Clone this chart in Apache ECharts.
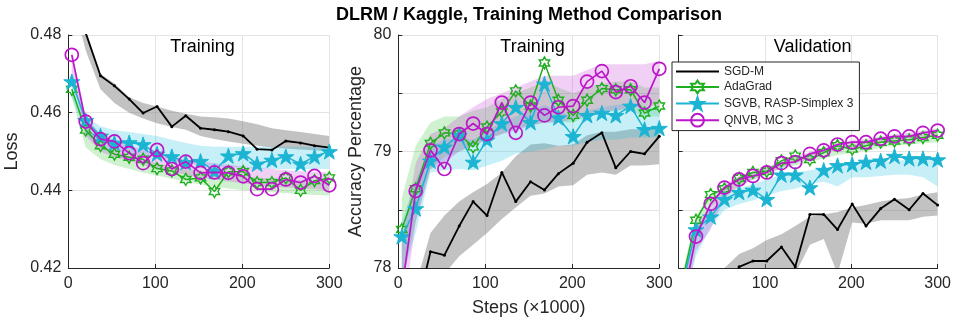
<!DOCTYPE html>
<html>
<head>
<meta charset="utf-8">
<script src="https://cdn.jsdelivr.net/npm/echarts@6/dist/echarts.min.js"></script>
<style>html,body{margin:0;padding:0;background:#fff;}#c{width:954px;height:322px;}</style>
</head>
<body>
<div id="c"></div>
<script>
// ---------- data ----------
const steps = [4,20,37,53,70,86,102,119,135,152,168,184,201,217,234,250,267,283,300];
const seriesNames = ['SGD-M','AdaGrad','SGVB, RASP-Simplex 3','QNVB, MC 3'];

// Training loss (left panel)
const sgdLoss  = [0.495,0.4805,0.4695,0.4669,0.4635,0.4599,0.4616,0.4564,0.4592,0.4560,0.4556,0.4551,0.4540,0.4506,0.4504,0.4527,0.4522,0.4515,0.4510];
const adaLoss  = [0.4660,0.4555,0.4515,0.4493,0.4485,0.4480,0.4456,0.4450,0.4428,0.4432,0.4397,0.4448,0.4448,0.4420,0.4420,0.4432,0.4400,0.4425,0.4432];
const sgvbLoss = [0.4680,0.4580,0.4540,0.4522,0.4523,0.4518,0.4494,0.4487,0.4472,0.4475,0.4449,0.4489,0.4495,0.4468,0.4478,0.4487,0.4468,0.4487,0.4500];
const qnvbLoss = [0.4749,0.4577,0.4532,0.4526,0.4496,0.4470,0.4504,0.4455,0.4474,0.4445,0.4446,0.4445,0.4436,0.4403,0.4403,0.4428,0.4420,0.4437,0.4413];
const sgdLossLo  = [0.490,0.4760,0.4660,0.4625,0.4600,0.4585,0.4573,0.4563,0.4556,0.4540,0.4532,0.4526,0.4520,0.4515,0.4510,0.4508,0.4505,0.4503,0.4500];
const sgdLossHi  = [0.500,0.4815,0.4700,0.4675,0.4640,0.4625,0.4616,0.4605,0.4597,0.4590,0.4588,0.4585,0.4578,0.4570,0.4560,0.4555,0.4550,0.4545,0.4540];
const adaLossLo  = [0.4640,0.4510,0.4480,0.4465,0.4455,0.4445,0.4438,0.4430,0.4423,0.4415,0.4410,0.4405,0.4400,0.4398,0.4395,0.4393,0.4390,0.4388,0.4387];
const adaLossHi  = [0.4670,0.4560,0.4520,0.4500,0.4490,0.4480,0.4470,0.4462,0.4455,0.4450,0.4445,0.4440,0.4436,0.4433,0.4430,0.4428,0.4426,0.4425,0.4424];
const sgvbLossLo = [0.4640,0.4545,0.4510,0.4500,0.4495,0.4490,0.4485,0.4478,0.4470,0.4465,0.4460,0.4458,0.4458,0.4456,0.4455,0.4455,0.4455,0.4455,0.4455];
const sgvbLossHi = [0.4700,0.4590,0.4565,0.4555,0.4550,0.4545,0.4540,0.4530,0.4522,0.4515,0.4512,0.4512,0.4512,0.4512,0.4512,0.4512,0.4512,0.4512,0.4512];
const qnvbLossLo = [0.4700,0.4540,0.4500,0.4485,0.4475,0.4465,0.4455,0.4447,0.4440,0.4433,0.4428,0.4423,0.4418,0.4414,0.4410,0.4407,0.4405,0.4403,0.4400];
const qnvbLossHi = [0.4760,0.4590,0.4545,0.4530,0.4515,0.4505,0.4495,0.4487,0.4480,0.4475,0.4470,0.4466,0.4462,0.4458,0.4455,0.4452,0.4450,0.4448,0.4446];

// Training accuracy (middle panel)
const sgdTrainAcc  = [77.0,77.61,78.14,78.11,78.36,78.57,78.45,78.82,78.57,78.74,78.67,78.81,78.90,79.08,79.16,78.86,79.00,78.98,79.13];
const adaTrainAcc  = [78.33,78.68,79.07,79.16,79.15,79.04,79.21,79.34,79.52,79.39,79.76,79.44,79.31,79.44,79.54,79.53,79.53,79.33,79.39];
const sgvbTrainAcc = [78.27,78.51,78.92,79.04,79.14,78.91,79.10,79.24,79.38,79.25,79.58,79.29,79.13,79.31,79.33,79.31,79.39,79.19,79.20];
const qnvbTrainAcc = [77.81,78.66,79.01,78.85,79.15,79.24,79.15,79.42,79.16,79.42,79.31,79.38,79.39,79.60,79.69,79.51,79.56,79.42,79.71];
const sgdTrainLo  = [76.8,77.3,77.75,77.95,78.1,78.2,78.3,78.42,78.52,78.62,78.64,78.70,78.71,78.80,78.82,78.80,78.88,78.88,78.89];
const sgdTrainHi  = [77.4,77.85,78.3,78.45,78.57,78.65,78.72,78.82,78.96,79.06,79.07,79.05,79.06,79.14,79.17,79.17,79.19,79.19,79.20];
const adaTrainLo  = [77.9,78.4,78.85,78.95,79.0,79.05,79.1,79.15,79.2,79.22,79.25,79.25,79.25,79.3,79.33,79.35,79.35,79.3,79.3];
const adaTrainHi  = [78.6,79.05,79.25,79.3,79.3,79.35,79.38,79.45,79.5,79.55,79.6,79.55,79.5,79.55,79.58,79.6,79.6,79.55,79.55];
const sgvbTrainLo = [77.9,78.3,78.82,78.84,78.85,78.84,78.88,78.92,78.98,79.0,79.02,79.05,79.05,79.08,79.1,79.1,79.12,79.12,79.12];
const sgvbTrainHi = [78.4,78.75,79.05,79.1,79.12,79.1,79.18,79.25,79.3,79.35,79.4,79.35,79.3,79.35,79.38,79.4,79.42,79.38,79.38];
const qnvbTrainLo = [77.5,78.4,78.85,78.9,79.0,79.05,79.1,79.15,79.18,79.22,79.25,79.25,79.28,79.3,79.35,79.35,79.38,79.38,79.4];
const qnvbTrainHi = [78.2,78.9,79.15,79.2,79.3,79.38,79.45,79.5,79.55,79.6,79.65,79.65,79.65,79.7,79.75,79.75,79.75,79.75,79.78];

// Validation accuracy (right panel)
const sgdValAcc  = [76.5,77.3,77.5,77.7,78.01,78.06,78.06,78.18,78.01,78.46,78.46,78.33,78.55,78.36,78.51,78.59,78.50,78.64,78.54];
const adaValAcc  = [77.88,78.41,78.63,78.68,78.77,78.82,78.83,78.92,78.96,78.93,78.99,79.05,79.02,79.05,79.08,79.09,79.10,79.12,79.14];
const sgvbValAcc = [77.85,78.33,78.44,78.59,78.65,78.67,78.59,78.80,78.80,78.69,78.84,78.88,78.89,78.91,78.92,78.96,78.94,78.94,78.93];
const qnvbValAcc = [77.68,78.27,78.55,78.69,78.76,78.79,78.82,78.90,78.91,78.98,79.01,79.06,79.08,79.08,79.11,79.13,79.13,79.16,79.18];
const sgdValLo  = [76.0,76.6,77.0,77.5,77.8,77.85,77.95,78.0,77.95,78.2,78.25,77.95,78.39,78.38,78.41,78.41,78.41,78.44,78.45];
const sgdValHi  = [76.5,77.2,77.6,78.0,78.12,78.17,78.24,78.29,78.36,78.44,78.46,78.48,78.52,78.54,78.57,78.59,78.60,78.63,78.65];
const adaValLo  = [77.8,78.3,78.52,78.62,78.7,78.76,78.8,78.85,78.88,78.91,78.94,78.97,78.99,79.01,79.03,79.05,79.06,79.07,79.08];
const adaValHi  = [77.95,78.45,78.62,78.7,78.78,78.82,78.86,78.91,78.95,78.98,79.01,79.04,79.06,79.08,79.1,79.12,79.13,79.14,79.16];
const sgvbValLo = [77.6,78.1,78.35,78.5,78.55,78.58,78.62,78.66,78.68,78.72,78.74,78.7,78.78,78.78,78.79,78.8,78.8,78.78,78.7];
const sgvbValHi = [77.9,78.35,78.5,78.62,78.68,78.72,78.76,78.8,78.82,78.84,78.86,78.87,78.88,78.9,78.91,78.92,78.93,78.93,78.93];
const qnvbValLo = [77.6,78.15,78.33,78.6,78.7,78.76,78.8,78.86,78.9,78.94,78.98,79.02,79.04,79.06,79.08,79.1,79.11,79.13,79.15];
const qnvbValHi = [77.8,78.35,78.55,78.72,78.79,78.83,78.86,78.92,78.95,79.0,79.04,79.07,79.1,79.11,79.13,79.15,79.16,79.18,79.2];

// ---------- styling ----------
const FONT = '"Liberation Sans", Arial, Helvetica, sans-serif';
const AX = '#262626';
const colors = ['#000000', '#1fae1f', '#1cb4d3', '#bb17c9'];
const bandColors = ['rgba(120,120,120,0.45)', 'rgba(40,190,40,0.22)', 'rgba(30,190,225,0.25)', 'rgba(190,40,210,0.22)'];

function starPath(n, rIn) {
  const pts = [];
  for (let k = 0; k < 2 * n; k++) {
    const a = (-90 + k * 180 / n) * Math.PI / 180;
    const r = k % 2 === 0 ? 10 : 10 * rIn;
    pts.push((10 + r * Math.cos(a)).toFixed(3) + ' ' + (10 + r * Math.sin(a)).toFixed(3));
  }
  return 'path://M' + pts.join(' L') + ' Z';
}
const hexagram = starPath(6, 0.577);
const pentagram = starPath(5, 0.382);

const markers = [
  {symbol: 'circle', size: 3, fill: '#000', bw: 0, lw: 1.8},
  {symbol: hexagram, size: 12, fill: 'rgba(255,255,255,0)', bw: 1.4, lw: 1.5},
  {symbol: pentagram, size: 16, fill: colors[2], bw: 1, lw: 1.5},
  {symbol: 'circle', size: 13, fill: 'rgba(255,255,255,0)', bw: 1.7, lw: 1.7}
];

const panels = [
  {lines: [sgdLoss, adaLoss, sgvbLoss, qnvbLoss],
   lo: [sgdLossLo, adaLossLo, sgvbLossLo, qnvbLossLo],
   hi: [sgdLossHi, adaLossHi, sgvbLossHi, qnvbLossHi]},
  {lines: [sgdTrainAcc, adaTrainAcc, sgvbTrainAcc, qnvbTrainAcc],
   lo: [sgdTrainLo, adaTrainLo, sgvbTrainLo, qnvbTrainLo],
   hi: [sgdTrainHi, adaTrainHi, sgvbTrainHi, qnvbTrainHi]},
  {lines: [sgdValAcc, adaValAcc, sgvbValAcc, qnvbValAcc],
   lo: [sgdValLo, adaValLo, sgvbValLo, qnvbValLo],
   hi: [sgdValHi, adaValHi, sgvbValHi, qnvbValHi]}
];

const series = [];
// lines first (so legend picks their style)
panels.forEach((p, gi) => {
  p.lines.forEach((vals, si) => {
    const m = markers[si];
    series.push({
      name: seriesNames[si], type: 'line', xAxisIndex: gi, yAxisIndex: gi,
      data: steps.map((x, i) => [x, vals[i]]),
      symbol: m.symbol, symbolSize: m.size, symbolKeepAspect: true, showSymbol: true,
      lineStyle: {color: colors[si], width: m.lw},
      itemStyle: {color: m.fill, borderColor: colors[si], borderWidth: m.bw},
      z: 3 + si, clip: true, animation: false, silent: true
    });
  });
});
// shaded bands: one polygon per band, drawn through the axis scales
panels.forEach((p, gi) => {
  p.lines.forEach((vals, si) => {
    const lo = p.lo[si], hi = p.hi[si];
    series.push({
      name: 'band' + gi + '_' + si, type: 'custom', xAxisIndex: gi, yAxisIndex: gi,
      data: [[steps[0], lo[0]]], z: 1, clip: true, animation: false, silent: true,
      renderItem: (params, api) => {
        const top = steps.map((x, i) => api.coord([x, hi[i]]));
        const bot = steps.map((x, i) => api.coord([x, lo[i]])).reverse();
        const cs = params.coordSys;
        return {
          type: 'polygon', shape: {points: top.concat(bot)},
          style: {fill: bandColors[si], stroke: null},
          clipPath: {type: 'rect', shape: {x: cs.x, y: cs.y, width: cs.width, height: cs.height}}
        };
      }
    });
  });
});

const gridLefts = [68.3, 398.3, 678.7];
const grids = gridLefts.map(l => ({left: l, top: 35, width: 261, height: 233, containLabel: false}));

function xAxis(gi, withName, hideZero) {
  return {
    gridIndex: gi, type: 'value', min: 0, max: 300, interval: 100,
    name: withName ? 'Steps (\u00d71000)' : '', nameLocation: 'middle', nameGap: 31,
    nameTextStyle: {fontSize: 18, color: AX, fontFamily: FONT},
    axisLine: {show: true, onZero: false, lineStyle: {color: AX, width: 1}},
    axisTick: {show: true, inside: true, length: 4, lineStyle: {color: AX}},
    axisLabel: {color: AX, fontSize: 16, fontFamily: FONT, margin: 8,
      formatter: v => (hideZero && v === 0) ? '' : String(v)},
    splitLine: {show: true, lineStyle: {color: '#e4e4e4', width: 1}}
  };
}
function yAxis(gi, min, max, interval, name, gap, fmt) {
  return {
    gridIndex: gi, type: 'value', min: min, max: max, interval: interval,
    name: name, nameLocation: 'middle', nameGap: gap,
    nameTextStyle: {fontSize: 18, color: AX, fontFamily: FONT},
    axisLine: {show: true, onZero: false, lineStyle: {color: AX, width: 1}},
    axisTick: {show: true, inside: true, length: 4, lineStyle: {color: AX}},
    axisLabel: {show: fmt !== null, color: AX, fontSize: 16, fontFamily: FONT, margin: 7, formatter: fmt || undefined},
    splitLine: {show: true, lineStyle: {color: '#e4e4e4', width: 1}}
  };
}

const option = {
  backgroundColor: '#fff',
  animation: false,
  grid: grids,
  xAxis: [xAxis(0, false, false), xAxis(1, true, false), xAxis(2, false, true)],
  yAxis: [
    yAxis(0, 0.42, 0.48, 0.02, 'Loss', 47, v => v.toFixed(2)),
    yAxis(1, 78, 80, 0.5, 'Accuracy Percentage', 33, v => (Math.abs(v - Math.round(v)) < 1e-9 ? String(Math.round(v)) : '')),
    yAxis(2, 78, 80, 0.5, '', 0, null)
  ],
  legend: {
    data: [
      {name: seriesNames[0], itemStyle: {opacity: 0}},
      seriesNames[1], seriesNames[2], seriesNames[3]
    ],
    left: 672, top: 62, orient: 'vertical',
    itemWidth: 43, itemHeight: 16, itemGap: 1.8,
    padding: [3, 6, 3, 3],
    borderColor: AX, borderWidth: 1, borderRadius: 0, backgroundColor: '#fff',
    textStyle: {fontSize: 12, color: AX, fontFamily: FONT},
    selectedMode: false, z: 20
  },
  graphic: [
    {type: 'text', x: 529, y: 15.5, z: 20, style: {text: 'DLRM / Kaggle, Training Method Comparison', align: 'center', verticalAlign: 'middle', fontSize: 18, fontWeight: 'bold', fontFamily: FONT, fill: '#000'}},
    {type: 'text', x: 202.5, y: 47, z: 20, style: {text: 'Training', align: 'center', verticalAlign: 'middle', fontSize: 18, fontFamily: FONT, fill: '#000'}},
    {type: 'text', x: 532.5, y: 47, z: 20, style: {text: 'Training', align: 'center', verticalAlign: 'middle', fontSize: 18, fontFamily: FONT, fill: '#000'}},
    {type: 'text', x: 812.7, y: 47, z: 20, style: {text: 'Validation', align: 'center', verticalAlign: 'middle', fontSize: 18, fontFamily: FONT, fill: '#000'}}
  ],
  series: series
};

const chart = echarts.init(document.getElementById('c'), null, {renderer: 'canvas'});
chart.setOption(option);
</script>
</body>
</html>
